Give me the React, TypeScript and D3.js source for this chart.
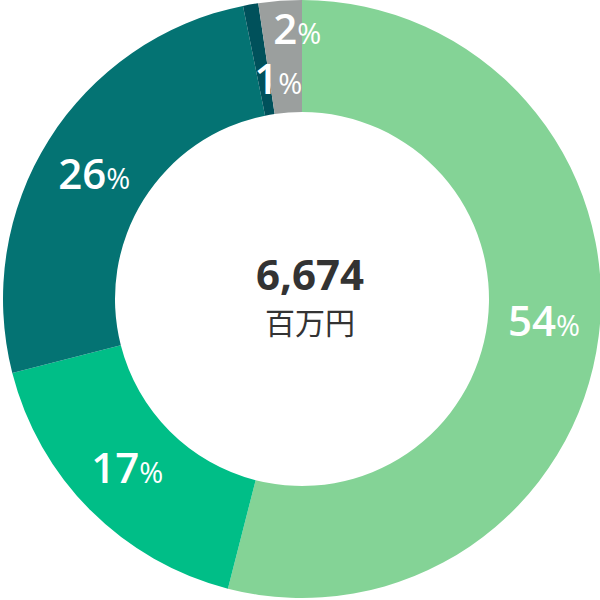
import { useEffect, useRef } from "react";
import * as d3 from "d3";

type T_Slice = {
  key: string;
  value: number;
};

// amounts in 百万円
const categories = ["A", "B", "C", "D", "E"];
const values = [3603, 1137, 1723, 55, 156];
const percentLabels = ["54", "17", "26", "1", "2"];
const colors = ["#84d396", "#00be87", "#047373", "#00515b", "#9b9f9e"];
const totalLabel = "6,674";
const unitLabel = "百万円";

// small label nudges (px) from the arc centroid
const labelNudge: [number, number][] = [
  [1, 7],
  [-3, 12],
  [-2, 19],
  [18, 34],
  [13, -13],
];

export default function App() {
  const svgRef = useRef<SVGSVGElement>(null);
  const width = 600;
  const height = 600;

  useEffect(() => {
    if (!svgRef.current) return;
    const svg = d3.select(svgRef.current);
    svg.selectAll("*").remove();

    const cx = 302;
    const cy = 299;
    const outer = 299;
    const inner = 187;

    const data: T_Slice[] = categories.map((k, i) => ({ key: k, value: values[i] }));

    const pie = d3
      .pie<T_Slice>()
      .value((d) => d.value)
      .sort(null);

    const arc = d3
      .arc<d3.PieArcDatum<T_Slice>>()
      .innerRadius(inner)
      .outerRadius(outer);

    const chart = svg.append("g").attr("transform", `translate(${cx},${cy})`);
    const slices = pie(data);

    chart
      .selectAll(".arc")
      .data(slices)
      .enter()
      .append("path")
      .attr("class", "arc")
      .attr("d", arc)
      .attr("fill", (_d, i) => colors[i]);

    // labels on top of every slice
    const labels = chart
      .selectAll(".label")
      .data(slices)
      .enter()
      .append("text")
      .attr("class", "label")
      .attr("transform", (d, i) => {
        const [x, y] = arc.centroid(d);
        return `translate(${x + labelNudge[i][0]},${y + labelNudge[i][1]})`;
      })
      .attr("text-anchor", "middle")
      .style("font-family", "'Open Sans', sans-serif")
      .style("font-weight", "600")
      .style("fill", "white");

    labels
      .append("tspan")
      .style("font-size", "42px")
      .text((_d, i) => percentLabels[i]);
    labels
      .append("tspan")
      .style("font-size", "29px")
      .style("font-weight", "400")
      .text("%");

    // centre total
    chart
      .append("text")
      .attr("x", 8)
      .attr("y", -9)
      .attr("text-anchor", "middle")
      .style("font-family", "'Open Sans', sans-serif")
      .style("font-weight", "700")
      .style("font-size", "42px")
      .style("fill", "#333333")
      .text(totalLabel);

    chart
      .append("text")
      .attr("x", 8)
      .attr("y", 35)
      .attr("text-anchor", "middle")
      .style("font-family", "'Noto Sans CJK JP', sans-serif")
      .style("font-size", "30px")
      .style("fill", "#333333")
      .text(unitLabel);
  }, []);

  return (
    <svg
      ref={svgRef}
      width={width}
      height={height}
      viewBox={`0 0 ${width} ${height}`}
      style={{ position: "absolute", left: 0, top: 0, background: "white" }}
    />
  );
}
